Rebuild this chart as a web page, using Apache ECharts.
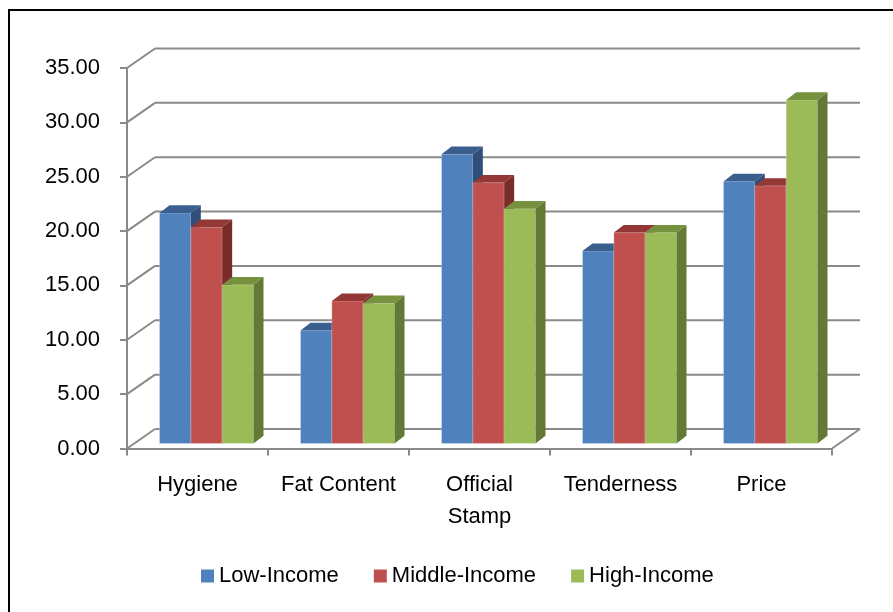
<!DOCTYPE html>
<html>
<head>
<meta charset="utf-8">
<script src="https://cdn.jsdelivr.net/npm/echarts@6/dist/echarts.min.js"></script>
<style>
  html, body { margin: 0; padding: 0; background: #fff; }
  #chart { width: 893px; height: 612px; }
</style>
</head>
<body>
<div id="chart"></div>
<script>
// Survey scores by attribute and income group
const categories = ['Hygiene', 'Fat Content', 'Official\nStamp', 'Tenderness', 'Price'];
const seriesNames = ['Low-Income', 'Middle-Income', 'High-Income'];
const lowIncome = [21.2, 10.4, 26.6, 17.7, 24.1];
const middleIncome = [19.9, 13.1, 24.0, 19.4, 23.7];
const highIncome = [14.6, 12.9, 21.6, 19.4, 31.6];
const yTicks = [0, 5, 10, 15, 20, 25, 30, 35];

// face colours: front, top, side
const palette = [
  { front: '#4F81BD', top: '#3A5F8E', side: '#2F4F7A' },
  { front: '#C0504D', top: '#943836', side: '#7A2C2A' },
  { front: '#9BBB59', top: '#77923F', side: '#627A33' }
];

// oblique projection offsets (pixels)
const WALL_DX = 28, WALL_DY = -19.5;   // full depth of the wall/floor
const BAR_FX = 9, BAR_FY = -5;         // bar front plane
const BAR_DX = 10, BAR_DY = -7.7;      // bar depth
const GRID_COLOR = '#8a8a8a';
const FONT = "'Liberation Sans', Arial, sans-serif";

const chart = echarts.init(document.getElementById('chart'));

function wallsRender(params, api) {
  const c0 = api.coord([0, 0]);
  const band = api.size([1, 0])[0];
  const left = c0[0] - band / 2;
  const right = left + band * categories.length;
  const children = [];
  const style = { stroke: GRID_COLOR, lineWidth: 2, fill: null };
  yTicks.forEach(function (t) {
    const y = api.coord([0, t])[1];
    // left wall diagonal
    children.push({ type: 'line', shape: { x1: left, y1: y, x2: left + WALL_DX, y2: y + WALL_DY }, style: style });
    // back wall gridline
    children.push({ type: 'line', shape: { x1: left + WALL_DX, y1: y + WALL_DY, x2: right + WALL_DX, y2: y + WALL_DY }, style: style });
  });
  // right floor edge
  const y0 = api.coord([0, 0])[1];
  children.push({ type: 'line', shape: { x1: right, y1: y0, x2: right + WALL_DX, y2: y0 + WALL_DY }, style: style });
  return { type: 'group', children: children };
}

function barRenderer(sIdx) {
  const col = palette[sIdx];
  return function (params, api) {
    const cat = api.value(0);
    const val = api.value(1);
    const base = api.coord([cat, 0]);
    const top = api.coord([cat, val]);
    const band = api.size([1, 0])[0];
    const w = band / 4.5;
    const x = base[0] - 1.5 * w + BAR_FX + sIdx * w;
    const by = base[1] + BAR_FY;
    const ty = top[1] + BAR_FY;
    return {
      type: 'group',
      children: [
        { type: 'rect', shape: { x: x, y: ty, width: w, height: by - ty },
          style: { fill: col.front, stroke: 'rgba(255,255,255,0.25)', lineWidth: 1 } },
        { type: 'polygon', shape: { points: [[x, ty], [x + BAR_DX, ty + BAR_DY], [x + w + BAR_DX, ty + BAR_DY], [x + w, ty]] },
          style: { fill: col.top } },
        { type: 'polygon', shape: { points: [[x + w, ty], [x + w + BAR_DX, ty + BAR_DY], [x + w + BAR_DX, by + BAR_DY], [x + w, by]] },
          style: { fill: col.side } }
      ]
    };
  };
}

const values = [lowIncome, middleIncome, highIncome];
const barSeries = values.map(function (arr, sIdx) {
  return {
    name: seriesNames[sIdx],
    type: 'custom',
    renderItem: barRenderer(sIdx),
    itemStyle: { color: palette[sIdx].front },
    encode: { x: 0, y: 1 },
    data: arr.map(function (v, i) { return [i, v]; }),
    z: 3
  };
});

chart.setOption({
  backgroundColor: '#ffffff',
  animation: false,
  textStyle: { fontFamily: FONT },
  graphic: [
    { type: 'polyline', shape: { points: [[9, 612], [9, 10], [893, 10]] },
      style: { stroke: '#000', lineWidth: 2, fill: null } }
  ],
  grid: { left: 127, right: 61, top: 68, bottom: 163.5, containLabel: false },
  legend: {
    data: seriesNames,
    left: 196,
    top: 560,
    icon: 'rect',
    itemWidth: 13,
    itemHeight: 13,
    itemGap: 35,
    textStyle: { fontSize: 22, color: '#000', fontFamily: FONT }
  },
  xAxis: {
    type: 'category',
    data: categories,
    axisLine: { show: true, lineStyle: { color: GRID_COLOR, width: 2 } },
    axisTick: { show: true, length: 7, interval: 0, lineStyle: { color: GRID_COLOR, width: 2 } },
    axisLabel: { interval: 0, fontSize: 22, color: '#000', margin: 20, lineHeight: 32, fontFamily: FONT },
    splitLine: { show: false }
  },
  yAxis: {
    type: 'value',
    min: 0,
    max: 35,
    interval: 5,
    axisLine: { show: true, lineStyle: { color: GRID_COLOR, width: 2 } },
    axisTick: { show: true, length: 7, lineStyle: { color: GRID_COLOR, width: 2 } },
    axisLabel: { fontSize: 22, color: '#000', margin: 27, fontFamily: FONT,
      formatter: function (v) { return v.toFixed(2); } },
    splitLine: { show: false }
  },
  series: [
    {
      type: 'custom',
      name: 'walls',
      silent: true,
      renderItem: wallsRender,
      encode: { x: 0, y: 1 },
      data: [[0, 0]],
      z: 1
    }
  ].concat(barSeries)
});
</script>
</body>
</html>
